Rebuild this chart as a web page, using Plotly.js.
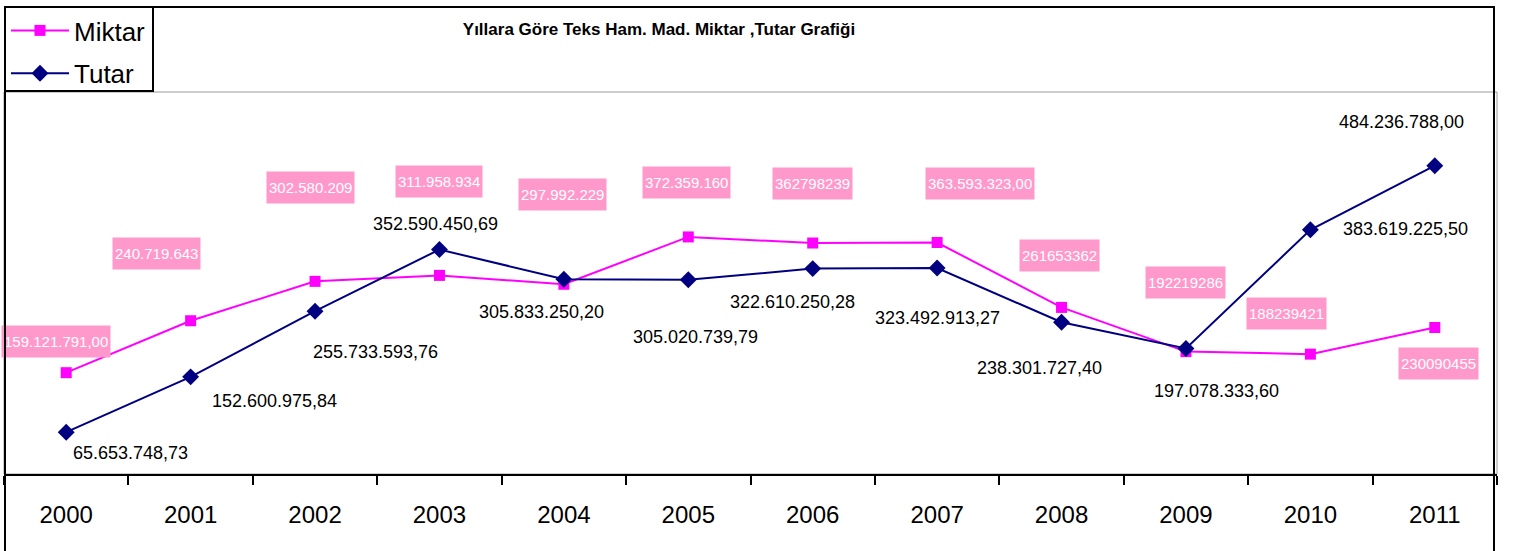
<!DOCTYPE html>
<html>
<head>
<meta charset="utf-8">
<script src="https://cdn.plot.ly/plotly-3.0.1.min.js"></script>
<style>
  html, body { margin: 0; padding: 0; background: #fff; }
  #wrap { position: relative; width: 1514px; height: 551px; overflow: hidden; }
  #chart { position: absolute; left: 0; top: 0; width: 1514px; height: 551px; }
  #frame { position: absolute; left: 4px; top: 6px; width: 1487px; height: 600px;
           border: 2px solid #000; pointer-events: none; box-sizing: content-box; }
</style>
</head>
<body>
<div id="wrap">
  <div id="chart"></div>
  <div id="frame"></div>
</div>
<script>
// ---- data ----
const years = ['2000','2001','2002','2003','2004','2005','2006','2007','2008','2009','2010','2011'];
const miktar = [159121791, 240719643, 302580209, 311958934, 297992229, 372359160, 362798239, 363593323, 261653362, 192219286, 188239421, 230090455];
const tutar = [65653748.73, 152600975.84, 255733593.76, 352590450.69, 305833250.20, 305020739.79, 322610250.28, 323492913.27, 238301727.40, 197078333.60, 383619225.50, 484236788.00];
const miktarLabels = ['159.121.791,00','240.719.643','302.580.209','311.958.934','297.992.229','372.359.160','362798239','363.593.323,00','261653362','192219286','188239421','230090455'];
const tutarLabels = ['65.653.748,73','152.600.975,84','255.733.593,76','352.590.450,69','305.833.250,20','305.020.739,79','322.610.250,28','323.492.913,27','238.301.727,40','197.078.333,60','383.619.225,50','484.236.788,00'];

// ---- label offsets (pixels, style) ----
const mShiftX = [-10, -34, -5, 0, -1, -2, 0, 43, -2, 0, -24, 4];
const mShiftY = [31, 67, 94, 94, 90, 54, 60, 59, 52, 69, 41, -36];
const tShiftX = [64, 84, 60, -4, -22, 7, -20, 0, -22, 31, 95, -33];
const tShiftY = [-21, -24, -41, 26, -33, -57, -33, -50, -46, -42, 1, 44];

const FONT = 'Liberation Sans, Arial, sans-serif';
const W = 1514, H = 551, ML = 4, MR = 17, MT = 92, MB = 77;
const PW = W - ML - MR, PH = H - MT - MB;
const px = v => (v - ML) / PW;          // pixel x -> paper x
const py = v => (H - MB - v) / PH;      // pixel y -> paper y

const traces = [
  { x: years, y: miktar, name: 'Miktar', legendgroup: 'a', type: 'scatter', mode: 'lines+markers',
    line: { color: '#FF00FF', width: 2 },
    marker: { symbol: 'square', size: 11, color: '#FF00FF' }, hoverinfo: 'none' },
  { x: years, y: tutar, name: 'Tutar', legendgroup: 'b', type: 'scatter', mode: 'lines+markers',
    line: { color: '#000080', width: 2 },
    marker: { symbol: 'diamond', size: 13, color: '#000080' }, hoverinfo: 'none' }
];

const annotations = [];
years.forEach((yr, i) => {
  annotations.push({
    x: i, y: miktar[i], xref: 'x', yref: 'y', text: miktarLabels[i], showarrow: false,
    xshift: mShiftX[i], yshift: mShiftY[i],
    font: { family: FONT, size: 15, color: '#FFFFFF' },
    bgcolor: '#FF99CC', borderpad: 2, height: 27
  });
  annotations.push({
    x: i, y: tutar[i], xref: 'x', yref: 'y', text: tutarLabels[i], showarrow: false,
    xshift: tShiftX[i], yshift: tShiftY[i],
    font: { family: FONT, size: 18, color: '#000000' }
  });
});

const layout = {
  width: W, height: H,
  margin: { l: ML, r: MR, t: MT, b: MB, autoexpand: false },
  paper_bgcolor: '#FFFFFF', plot_bgcolor: '#FFFFFF',
  font: { family: FONT, color: '#000' },
  title: {
    text: 'Yıllara Göre Teks Ham. Mad. Miktar ,Tutar Grafiği',
    xref: 'container', yref: 'container', x: 659 / W, y: 1 - 29 / H,
    xanchor: 'center', yanchor: 'middle',
    font: { family: FONT, size: 17, weight: 'bold', color: '#000' }
  },
  showlegend: true,
  legend: {
    x: px(6), y: py(7),
    xanchor: 'left', yanchor: 'top',
    bgcolor: 'rgba(0,0,0,0)', borderwidth: 0,
    font: { family: FONT, size: 26, color: '#000' },
    tracegroupgap: 6, itemwidth: 58
  },
  xaxis: {
    type: 'category', range: [-0.5, 11.5], fixedrange: true, automargin: false,
    showgrid: false, zeroline: false,
    showline: true, linecolor: '#000', linewidth: 2,
    ticks: 'outside', ticklen: 9, tickwidth: 2, tickcolor: '#000',
    tickson: 'boundaries',
    tickfont: { family: FONT, size: 24, color: '#000' },
    ticklabelstandoff: 18
  },
  yaxis: {
    range: [0, 600000000], fixedrange: true, automargin: false,
    showgrid: false, zeroline: false, showline: false, showticklabels: false, ticks: ''
  },
  shapes: [
    { type: 'rect', xref: 'paper', yref: 'paper', x0: 0, x1: 1, y0: 0, y1: 1,
      line: { color: '#9a9a9a', width: 1 }, layer: 'below' },
    { type: 'rect', xref: 'paper', yref: 'paper', x0: px(5), x1: px(153), y0: py(91), y1: py(7),
      fillcolor: '#FFFFFF', line: { color: '#000', width: 2 }, layer: 'below' }
  ],
  annotations: annotations
};

Plotly.newPlot('chart', traces, layout, { staticPlot: true, displayModeBar: false });
</script>
</body>
</html>
